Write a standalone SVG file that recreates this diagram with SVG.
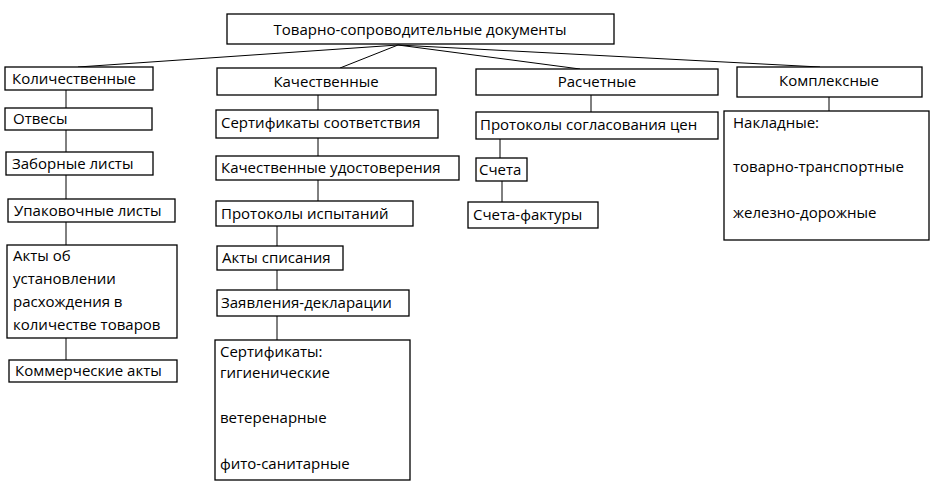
<svg xmlns="http://www.w3.org/2000/svg" width="938" height="495" viewBox="0 0 938 495">
<style>
rect.n{fill:#fff;stroke:#000;stroke-width:1.3}
line{stroke:#000;stroke-width:1}
text{font-family:"Open Sans","Liberation Sans",sans-serif;font-size:15px;fill:#000}
</style>
<rect width="938" height="495" fill="#fff"/>
<g id="connectors">
<line x1="398" y1="45" x2="78" y2="67"/>
<line x1="398" y1="45" x2="340" y2="68"/>
<line x1="398" y1="45" x2="580" y2="69"/>
<line x1="398" y1="45" x2="820" y2="67"/>
<line x1="66" y1="90" x2="66" y2="108"/>
<line x1="66" y1="130" x2="66" y2="152"/>
<line x1="66" y1="175" x2="66" y2="199"/>
<line x1="66" y1="222" x2="66" y2="245"/>
<line x1="66" y1="338" x2="66" y2="360"/>
<line x1="318" y1="95" x2="318" y2="110"/>
<line x1="318" y1="138" x2="318" y2="156"/>
<line x1="318" y1="180" x2="318" y2="201"/>
<line x1="277" y1="226" x2="277" y2="246"/>
<line x1="277" y1="270" x2="277" y2="290"/>
<line x1="277" y1="316" x2="277" y2="340"/>
<line x1="591" y1="95" x2="591" y2="112"/>
<line x1="500" y1="139" x2="500" y2="158"/>
<line x1="502" y1="181" x2="502" y2="202"/>
<line x1="829" y1="97" x2="829" y2="111"/>
</g>
<g id="root"><rect class="n" x="227" y="14" width="387" height="30"/><text x="420" y="35" text-anchor="middle" font-size="17">Товарно-сопроводительные документы</text></g>
<g id="kol"><rect class="n" x="5" y="67" width="148" height="23"/><text x="12" y="84">Количественные</text></g>
<g id="otv"><rect class="n" x="5" y="108" width="147" height="22"/><text x="13" y="124">Отвесы</text></g>
<g id="zab"><rect class="n" x="6" y="152" width="147" height="23"/><text x="12" y="169">Заборные листы</text></g>
<g id="upak"><rect class="n" x="8" y="199" width="167" height="23"/><text x="14" y="216">Упаковочные листы</text></g>
<g id="akty"><rect class="n" x="7" y="245" width="170" height="93"/><text x="13" y="261">Акты об</text><text x="13" y="284">установлении</text><text x="13" y="307">расхождения в</text><text x="13" y="330">количестве товаров</text></g>
<g id="komm"><rect class="n" x="9" y="360" width="168" height="22"/><text x="15" y="376">Коммерческие акты</text></g>
<g id="kach"><rect class="n" x="217" y="68" width="219" height="27"/><text x="326" y="87" text-anchor="middle">Качественные</text></g>
<g id="sert"><rect class="n" x="216" y="110" width="222" height="28"/><text x="221" y="128">Сертификаты соответствия</text></g>
<g id="udost"><rect class="n" x="216" y="156" width="243" height="24"/><text x="221" y="173">Качественные удостоверения</text></g>
<g id="prot"><rect class="n" x="216" y="201" width="197" height="25"/><text x="221" y="219">Протоколы испытаний</text></g>
<g id="spis"><rect class="n" x="217" y="246" width="126" height="24"/><text x="222" y="263">Акты списания</text></g>
<g id="zayav"><rect class="n" x="217" y="290" width="192" height="26"/><text x="221" y="308">Заявления-декларации</text></g>
<g id="sert2"><rect class="n" x="215" y="340" width="195" height="140"/><text x="220" y="357">Сертификаты:</text><text x="220" y="378">гигиенические</text><text x="220" y="423">ветеренарные</text><text x="220" y="469">фито-санитарные</text></g>
<g id="rasch"><rect class="n" x="476" y="69" width="242" height="26"/><text x="597" y="87" text-anchor="middle">Расчетные</text></g>
<g id="protsogl"><rect class="n" x="476" y="112" width="242" height="27"/><text x="480" y="130">Протоколы согласования цен</text></g>
<g id="scheta"><rect class="n" x="476" y="158" width="51" height="23"/><text x="479" y="175">Счета</text></g>
<g id="sf"><rect class="n" x="468" y="202" width="130" height="26"/><text x="473" y="220">Счета-фактуры</text></g>
<g id="kompl"><rect class="n" x="737" y="67" width="185" height="30"/><text x="829" y="86" text-anchor="middle">Комплексные</text></g>
<g id="nakl"><rect class="n" x="724" y="111" width="205" height="129"/><text x="733" y="128">Накладные:</text><text x="733" y="172">товарно-транспортные</text><text x="733" y="218">железно-дорожные</text></g>
</svg>
